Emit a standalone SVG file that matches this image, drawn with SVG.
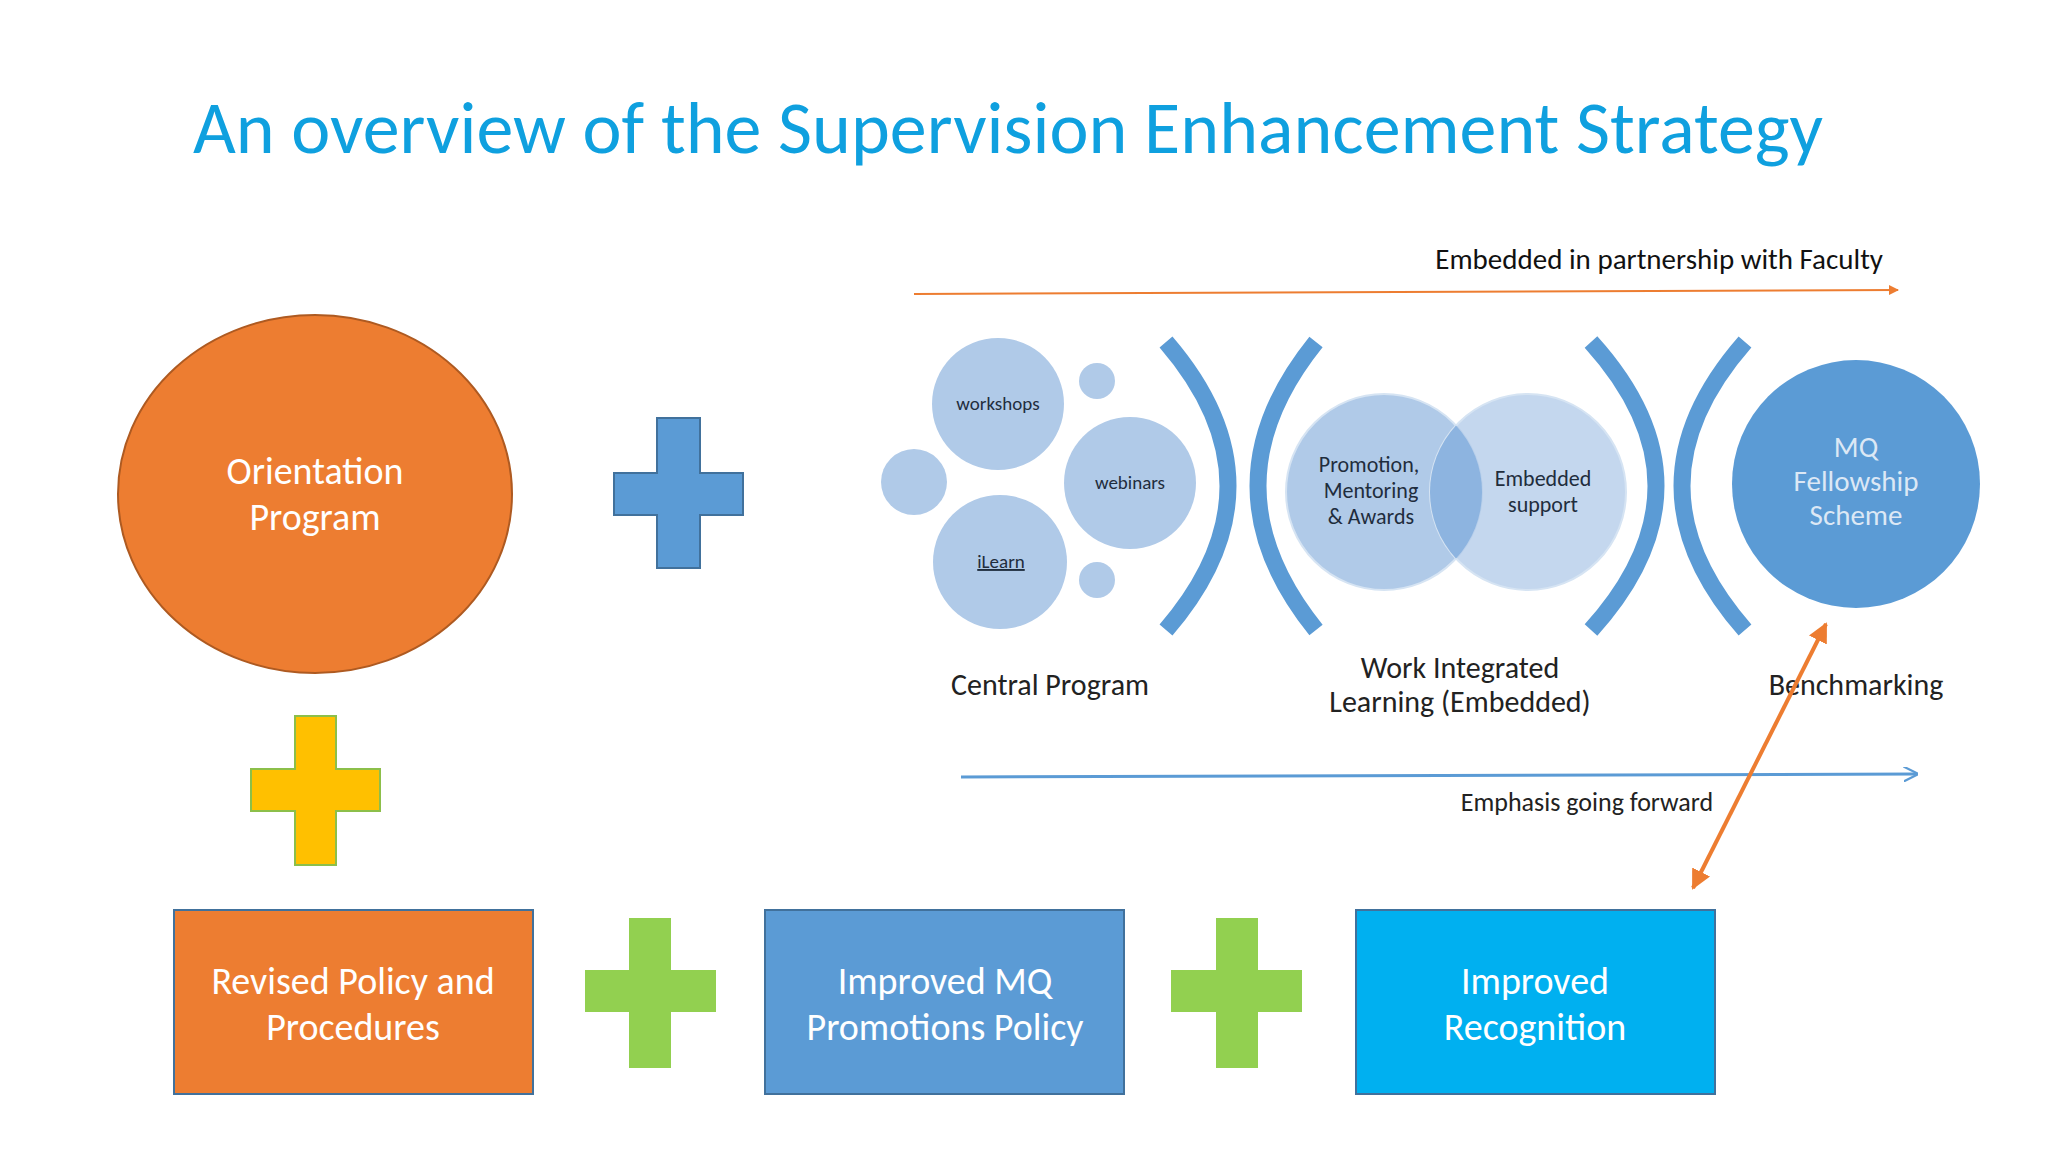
<svg xmlns="http://www.w3.org/2000/svg" width="2048" height="1152" viewBox="0 0 2048 1152">
<defs>
<style>
text{font-family:Calibri,"Liberation Sans","DejaVu Sans",sans-serif;text-anchor:middle}
.w{fill:#fff;font-size:38px}
.bub{fill:#B0CAE8}
.bt{fill:#1f2d3d;font-size:19px}
.vt{fill:#1f2d3d;font-size:22px}
.lab{fill:#222;font-size:30px}
.mqt{fill:#DCE8F5;font-size:29px}
.br{fill:none;stroke:#5B9BD5;stroke-width:17}
.bplus{fill:#5B9BD5;stroke:#41719C;stroke-width:2}
.gplus{fill:#92D050}
</style>
<marker id="ao" viewBox="0 0 10 10" refX="9" refY="5" markerWidth="5" markerHeight="5" orient="auto-start-reverse"><path d="M0 0L10 5L0 10z" fill="#ED7D31"/></marker>
<marker id="ab" viewBox="0 0 10 10" refX="9" refY="5" markerWidth="5" markerHeight="5" orient="auto"><path d="M0 0L10 5L0 10" fill="none" stroke="#5B9BD5" stroke-width="1.5"/></marker>
</defs>
<rect width="2048" height="1152" fill="#fff"/>
<text x="1008" y="153" font-size="74" fill="#0FA0DF">An overview of the Supervision Enhancement Strategy</text>

<g id="orientation"><ellipse cx="315" cy="494" rx="197" ry="179" fill="#ED7D31" stroke="#AE5A21" stroke-width="2"/>
<text class="w" x="315" y="484">Orientation</text><text class="w" x="315" y="530">Program</text></g>

<g id="plus-blue"><path class="bplus" d="M657 418H700V473H743V515H700V568H657V515H614V473H657Z"/></g>
<g id="plus-yellow"><path d="M295 716H336V769H380V811H336V865H295V811H251V769H295Z" fill="#FFC000" stroke="#8CBF4A" stroke-width="2"/></g>
<g id="plus-green1"><path class="gplus" d="M629 918H671V970H716V1012H671V1068H629V1012H585V970H629Z"/></g>
<g id="plus-green2"><path class="gplus" d="M1216 918H1258V970H1302V1012H1258V1068H1216V1012H1171V970H1216Z"/></g>

<g id="box-policy"><rect x="174" y="910" width="359" height="184" fill="#ED7D31" stroke="#41719C" stroke-width="2"/>
<text class="w" x="353" y="994">Revised Policy and</text><text class="w" x="353" y="1040">Procedures</text></g>
<g id="box-promotions"><rect x="765" y="910" width="359" height="184" fill="#5B9BD5" stroke="#41719C" stroke-width="2"/>
<text class="w" x="945" y="994">Improved MQ</text><text class="w" x="945" y="1040">Promotions Policy</text></g>
<g id="box-recognition"><rect x="1356" y="910" width="359" height="184" fill="#00B0F0" stroke="#41719C" stroke-width="2"/>
<text class="w" x="1535" y="994">Improved</text><text class="w" x="1535" y="1040">Recognition</text></g>

<g id="central">
<circle class="bub" cx="998" cy="404" r="66"/><text class="bt" x="998" y="410">workshops</text>
<circle class="bub" cx="1097" cy="381" r="18"/>
<circle class="bub" cx="1130" cy="483" r="66"/><text class="bt" x="1130" y="489">webinars</text>
<circle class="bub" cx="914" cy="482" r="33"/>
<circle class="bub" cx="1000" cy="562" r="67"/><text class="bt" x="1001" y="568" text-decoration="underline">iLearn</text>
<circle class="bub" cx="1097" cy="580" r="18"/>
<text class="lab" x="1050" y="695">Central Program</text>
</g>
<g id="brackets">
<path class="br" d="M1166 342Q1290 486 1166 630"/>
<path class="br" d="M1316 342Q1200 486 1316 630"/>
<path class="br" d="M1591 342Q1721 486 1591 630"/>
<path class="br" d="M1745 342Q1619 486 1745 630"/>
</g>
<g id="wil">
<circle cx="1384" cy="492" r="98" fill="#B0CAE8" stroke="#D6E4F3" stroke-width="2"/>
<circle cx="1528" cy="492" r="98" fill="#B0CAE8" fill-opacity="0.75" stroke="#D6E4F3" stroke-width="2"/>
<path d="M1456 425.5A98 98 0 0 1 1456 558.5A98 98 0 0 1 1456 425.5Z" fill="#8DB4E0"/>
<text class="vt" x="1369" y="472">Promotion,</text><text class="vt" x="1371" y="498">Mentoring</text><text class="vt" x="1371" y="524">&amp; Awards</text>
<text class="vt" x="1543" y="486">Embedded</text><text class="vt" x="1543" y="512">support</text>
<text class="lab" x="1460" y="678">Work Integrated</text><text class="lab" x="1460" y="712">Learning (Embedded)</text>
</g>
<g id="mq"><circle cx="1856" cy="484" r="124" fill="#5B9BD5"/>
<text class="mqt" x="1856" y="457">MQ</text><text class="mqt" x="1856" y="491">Fellowship</text><text class="mqt" x="1856" y="525">Scheme</text>
<text class="lab" x="1856" y="695">Benchmarking</text></g>

<g id="connectors">
<line x1="914" y1="294" x2="1898" y2="290" stroke="#ED7D31" stroke-width="2" marker-end="url(#ao)"/>
<text x="1883" y="269" font-size="29" fill="#111" style="text-anchor:end">Embedded in partnership with Faculty</text>
<line x1="961" y1="777" x2="1917" y2="774" stroke="#5B9BD5" stroke-width="3" marker-end="url(#ab)"/>
<text x="1587" y="811" font-size="26" fill="#222">Emphasis going forward</text>
<line x1="1693" y1="888" x2="1826" y2="624" stroke="#ED7D31" stroke-width="4" marker-start="url(#ao)" marker-end="url(#ao)"/>
</g>
</svg>
